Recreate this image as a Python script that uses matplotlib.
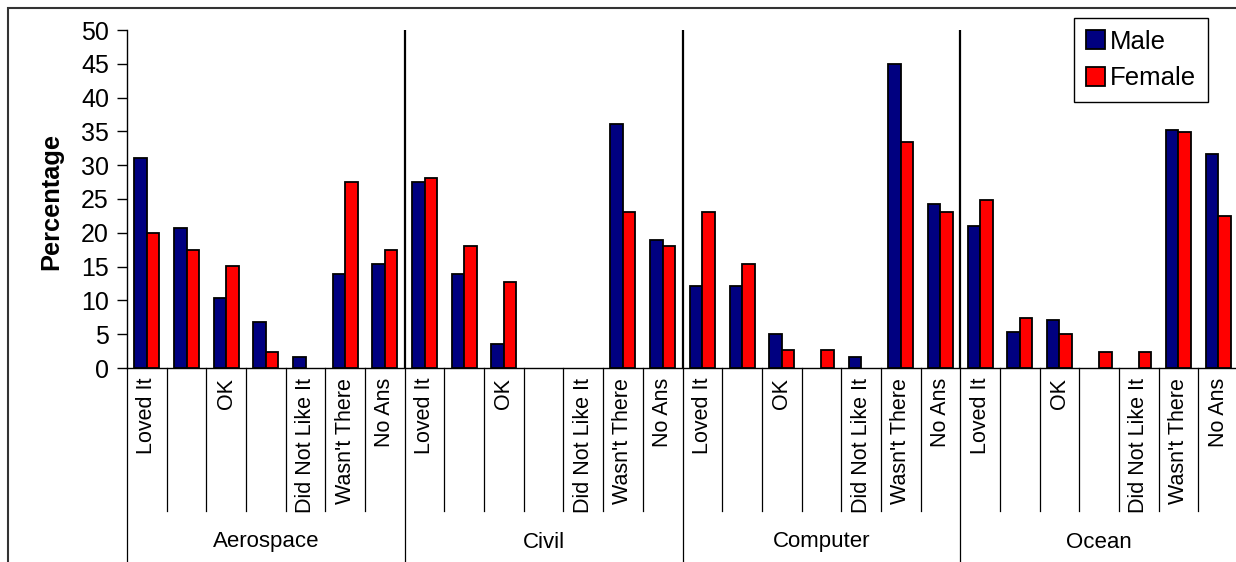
import numpy as np
import matplotlib
matplotlib.use("Agg")
import matplotlib.pyplot as plt
from matplotlib.patches import Rectangle
from matplotlib.lines import Line2D

plt.rcParams['font.family'] = ['Liberation Sans', 'DejaVu Sans']

# Enquête par département : réponses en pourcentage, hommes / femmes
departements = ['Aerospace', 'Civil', 'Computer', 'Ocean']
reponses = ['Loved It', '', 'OK', '', 'Did Not Like It', "Wasn't There", 'No Ans']

male_aero = [31.0, 20.7, 10.3, 6.8, 1.7, 13.9, 15.4]
female_aero = [20.0, 17.4, 15.1, 2.4, 0.0, 27.5, 17.4]
male_civil = [27.5, 13.9, 3.5, 0.0, 0.0, 36.1, 18.9]
female_civil = [28.1, 18.0, 12.7, 0.0, 0.0, 23.1, 18.0]
male_comp = [12.1, 12.1, 5.0, 0.0, 1.7, 45.0, 24.3]
female_comp = [23.1, 15.4, 2.7, 2.7, 0.0, 33.4, 23.1]
male_ocean = [21.0, 5.3, 7.1, 0.0, 0.0, 35.2, 31.7]
female_ocean = [24.9, 7.4, 5.0, 2.4, 2.4, 34.9, 22.5]

male = male_aero + male_civil + male_comp + male_ocean
female = female_aero + female_civil + female_comp + female_ocean

W, H = 1236, 562
fig = plt.figure(figsize=(W / 100, H / 100), dpi=100)

# zone de tracé en pixels : x 127 -> 1238, y 30 -> 368
ax = fig.add_axes([127 / W, (H - 368) / H, (1238 - 127) / W, 338 / H])

n_rep = len(reponses)
n = len(male)
x = np.arange(n)
bw = 0.315

barres_m = ax.bar(x - bw / 2, male, bw, color='#000080', edgecolor='black', linewidth=1.3, label='Male', zorder=3)
barres_f = ax.bar(x + bw / 2, female, bw, color='#ff0000', edgecolor='black', linewidth=1.3, label='Female', zorder=3)

# pas de trait pour les barres à zéro
for barres in (barres_m, barres_f):
    for p in barres.patches:
        if p.get_height() == 0:
            p.set_visible(False)

ax.set_xlim(-0.5, n - 0.5)
ax.set_ylim(0, 50)
ax.set_yticks(np.arange(0, 51, 5))
ax.tick_params(axis='y', labelsize=18, length=7, width=1, pad=6)
ax.set_xticks(x)
ax.set_xticklabels(reponses * len(departements), rotation=90, fontsize=15.5)
ax.tick_params(axis='x', length=0, pad=7)

for s in ['top', 'right']:
    ax.spines[s].set_visible(False)
ax.spines['left'].set_linewidth(1.0)
ax.spines['bottom'].set_linewidth(1.0)

ax.set_ylabel('Percentage', fontsize=18.3, fontweight='bold')
ax.yaxis.set_label_coords((63 - 127) / 1111, 0.494)

# séparateurs verticaux entre départements
for g in range(1, len(departements)):
    ax.axvline(g * n_rep - 0.5, color='black', linewidth=1.6, zorder=2)

# axe des catégories à deux niveaux
trans = ax.get_xaxis_transform()
tick_bas = (368 - 511) / 338
groupe_bas = (368 - 600) / 338
for i in range(n + 1):
    xb = i - 0.5
    bas = groupe_bas if i % n_rep == 0 else tick_bas
    ax.add_line(Line2D([xb, xb], [0, bas], transform=trans, color='black',
                       linewidth=0.9, clip_on=False))

for g, nom in enumerate(departements):
    ax.text(g * n_rep + (n_rep - 1) / 2, (368 - 542) / 338, nom, transform=trans,
            ha='center', va='center', fontsize=16)

# cadre extérieur
fig.patches.append(Rectangle((8 / W, -0.2), 1.2, 1.2 - 8 / H, transform=fig.transFigure,
                             fill=False, edgecolor='#333333', linewidth=1.5))

leg = ax.legend(loc='upper right', bbox_to_anchor=(1208 / W, 1 - 18 / H),
                bbox_transform=fig.transFigure, fontsize=18.5, frameon=True,
                fancybox=False, edgecolor='black', framealpha=1,
                handlelength=0.75, handleheight=0.75, handletextpad=0.2,
                labelspacing=0.5, borderpad=0.45, borderaxespad=0)
leg.get_frame().set_linewidth(1.0)

fig.savefig('out.png', dpi=100)
